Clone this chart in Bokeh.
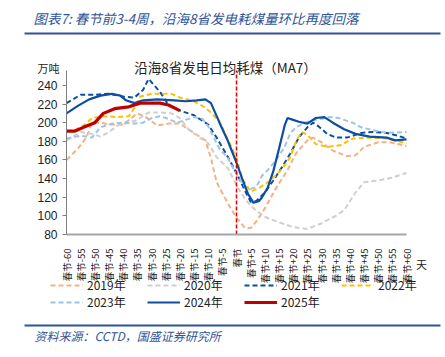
import math
from bokeh.plotting import figure
from bokeh.models import (Range1d, FixedTicker, Label, Legend, LegendItem,
                          BoxAnnotation, LinearAxis)
from bokeh.embed import file_html
from bokeh.resources import INLINE

# ---------------- data (days relative to Spring Festival, 万吨) ----------------
days_2019 = [-60, -56, -53, -51, -48, -45, -40, -35, -32, -28, -24, -20, -15, -11, -9, -7, -3, 0, 3, 5, 7, 10, 14, 18, 21, 25, 27, 30, 34, 39, 42, 45, 50, 54, 60]
vals_2019 = [160, 172, 184, 200, 200, 198, 198, 210, 206, 197, 199, 199, 189, 181, 162, 136, 113, 98, 87, 87, 94, 108, 130, 149, 167, 181, 184, 179, 170, 164, 165, 174, 179, 179, 175]

days_2020 = [-60, -55, -51, -48, -45, -42, -38, -35, -31, -27, -23, -20, -17, -13, -10, -7, -3, 0, 3, 6, 10, 15, 20, 25, 30, 35, 38, 42, 45, 50, 55, 60]
vals_2020 = [181, 190, 188, 185, 190, 197, 200, 203, 211, 211, 210, 205, 193, 184, 178, 163, 151, 133, 118, 108, 99, 93, 88, 86, 92, 100, 106, 125, 136, 138, 141, 146]

days_2021 = [-60, -55, -50, -45, -40, -36, -33, -31, -27, -24, -20, -15, -10, -7, -3, 0, 3, 5, 7, 10, 13, 16, 19, 22, 25, 27, 29, 32, 35, 39, 44, 48, 53, 57, 60]
vals_2021 = [221, 230, 230, 231, 228, 227, 235, 247, 233, 219, 213, 208, 198, 184, 163, 146, 127, 115, 116, 125, 138, 152, 167, 184, 195, 200, 196, 188, 184, 184, 189, 190, 189, 186, 183]

days_2022 = [-60, -57, -54, -51, -47, -42, -38, -36, -34, -30, -23, -20, -15, -12, -9, -6, -3, 0, 2, 5, 8, 12, 16, 19, 21, 23, 25, 28, 32, 37, 41, 48, 53, 60]
vals_2022 = [191, 192, 197, 205, 207, 206, 207, 216, 228, 231, 231, 227, 223, 218, 211, 201, 182, 162, 140, 126, 130, 138, 150, 163, 180, 190, 187, 177, 174, 176, 183, 184, 183, 178]

days_2023 = [-60, -55, -51, -48, -44, -40, -36, -33, -30, -27, -24, -21, -18, -15, -12, -10, -8, -6, -3, -1, 1, 3, 5, 7, 9, 11, 14, 17, 19, 21, 24, 28, 33, 36, 41, 44, 48, 53, 60]
vals_2023 = [183, 186, 184, 195, 199, 200, 199, 200, 205, 207, 204, 200, 203, 206, 204, 196, 184, 172, 162, 150, 140, 131, 129, 131, 143, 149, 160, 174, 189, 195, 200, 203, 206, 205, 200, 195, 192, 189, 190]

days_2024 = [-60, -56, -52, -48, -44, -41, -39, -36, -33, -28, -22, -18, -14, -11, -9, -6, -3, 0, 2, 4, 6, 8, 9, 11, 13, 15, 17, 18, 20, 22, 25, 28, 31, 34, 38, 42, 47, 53, 56, 60]
vals_2024 = [210, 218, 225, 229, 231, 229, 224, 221, 224, 225, 224, 223, 224, 225, 221, 200, 180, 157, 140, 124, 114, 116, 120, 130, 148, 172, 197, 205, 203, 201, 199, 205, 206, 200, 193, 188, 185, 184, 181, 182]

days_2025 = [-60, -57, -54, -50, -47, -43, -38, -34, -30, -27, -24, -20]
vals_2025 = [191, 191, 195, 200, 210, 215, 217, 221, 221, 221, 219, 213]

tick_days = [-60, -55, -50, -45, -40, -35, -30, -25, -20, -15, -10, -5, 0,
             5, 10, 15, 20, 25, 30, 35, 40, 45, 50, 55, 60]
tick_labels = ["春节-60", "春节-55", "春节-50", "春节-45", "春节-40", "春节-35",
               "春节-30", "春节-25", "春节-20", "春节-15", "春节-10", "春节-5",
               "春节", "春节+5", "春节+10", "春节+15", "春节+20", "春节+25",
               "春节+30", "春节+35", "春节+40", "春节+45", "春节+50", "春节+55",
               "春节+60"]
y_ticks = [80, 100, 120, 140, 160, 180, 200, 220, 240]

# ---------------- layout geometry (pixels) ----------------
W, H = 445, 357
FX0, FX1 = 66, 406        # plot area left/right
FY_TOP, FY_BOT = 70, 234  # plot area top/bottom (from top)
XMIN, XMAX = -60, 60
YMIN, YMAX = 80, 256

sx = (FX1 - FX0) / (XMAX - XMIN)
sy = (FY_BOT - FY_TOP) / (YMAX - YMIN)
x_start = XMIN - FX0 / sx
x_end = XMAX + (W - FX1) / sx
y_start = YMIN - (H - FY_BOT) / sy
y_end = YMAX + FY_TOP / sy

CJK = "Noto Sans CJK SC"
BLUE_T = "#2F5597"

p = figure(width=W, height=H, output_backend="svg", toolbar_location=None,
           x_range=Range1d(x_start, x_end), y_range=Range1d(y_start, y_end),
           x_axis_location=None, y_axis_location=None,
           min_border=0, min_border_left=0, min_border_right=0,
           min_border_top=0, min_border_bottom=0)
p.outline_line_color = None
p.grid.grid_line_color = None
p.background_fill_color = "white"
p.border_fill_color = "white"

# axes fixed at the plot-area edges
yax = LinearAxis(fixed_location=XMIN, bounds=(YMIN, YMAX),
                 ticker=FixedTicker(ticks=y_ticks))
yax.axis_line_color = "#7F7F7F"
yax.major_tick_line_color = "#7F7F7F"
yax.major_tick_out = 4
yax.major_tick_in = 0
yax.minor_tick_line_color = None
yax.major_label_text_font = "Liberation Sans"
yax.major_label_text_font_size = "12px"
yax.major_label_text_color = "#222222"
yax.major_label_standoff = 5
p.add_layout(yax, "left")

xax = LinearAxis(fixed_location=YMIN, bounds=(XMIN, XMAX),
                 ticker=FixedTicker(ticks=tick_days))
xax.major_label_overrides = {d: l for d, l in zip(tick_days, tick_labels)}
xax.major_label_orientation = math.pi / 2
xax.axis_line_color = "#A6A6A6"
xax.axis_line_width = 2
xax.major_tick_line_color = None
xax.minor_tick_line_color = None
xax.major_label_text_font = CJK
xax.major_label_text_font_size = "9.5px"
xax.major_label_text_color = "#222222"
xax.major_label_standoff = 8
p.add_layout(xax, "below")

# series
DASH = "5 3"
r19 = p.line(days_2019, vals_2019, line_color="#F4B183", line_width=2, line_dash=DASH)
r20 = p.line(days_2020, vals_2020, line_color="#CFCFCF", line_width=2, line_dash=DASH)
r21 = p.line(days_2021, vals_2021, line_color="#0B4EA2", line_width=2, line_dash=DASH)
r22 = p.line(days_2022, vals_2022, line_color="#FFC000", line_width=2, line_dash=DASH)
r23 = p.line(days_2023, vals_2023, line_color="#9DC3E6", line_width=2, line_dash=DASH)
r24 = p.line(days_2024, vals_2024, line_color="#0B4EA2", line_width=2.2)
r25 = p.line(days_2025, vals_2025, line_color="#C00000", line_width=3.2)

# Spring Festival marker
p.segment(x0=[0], y0=[YMIN], x1=[0], y1=[YMAX], line_color="#E00000",
          line_dash="4 2", line_width=1.5)

legend = Legend(items=[LegendItem(label="2019年", renderers=[r19]),
                       LegendItem(label="2020年", renderers=[r20]),
                       LegendItem(label="2021年", renderers=[r21]),
                       LegendItem(label="2022年", renderers=[r22]),
                       LegendItem(label="2023年", renderers=[r23]),
                       LegendItem(label="2024年", renderers=[r24]),
                       LegendItem(label="2025年", renderers=[r25])],
                location=(50, 47), orientation="horizontal", ncols=4,
                label_text_font=CJK, label_text_font_size="12px",
                label_text_color="#222222",
                glyph_width=33, glyph_height=12, label_standoff=4,
                label_width=60, label_height=12, spacing=0, padding=0, margin=0,
                border_line_alpha=0, background_fill_alpha=0)
p.add_layout(legend)

# texts (screen units from bottom-left of canvas)
def lab(x, y, text, size, font=CJK, color="#222222", style="normal", align="left"):
    p.add_layout(Label(x=x, y=H - y, x_units="screen", y_units="screen", text=text,
                       text_font=font, text_font_size=size, text_color=color,
                       text_font_style=style, text_align=align,
                       text_baseline="middle"))

lab(33, 17, "图表7: 春节前3-4周，沿海8省发电耗煤量环比再度回落", "13.5px",
    color=BLUE_T, style="italic")
lab(225, 66, "沿海8省发电日均耗煤（MA7）", "13.5px", align="center")
lab(37, 67, "万吨", "11px")
lab(421, 263, "天", "11px", align="center")
lab(34, 335, "资料来源：CCTD，国盛证券研究所", "12px", color=BLUE_T, style="italic")

for yline in [33, 325]:
    p.add_layout(BoxAnnotation(left=24, right=440, top=H - yline + 1, bottom=H - yline - 1,
                               left_units="screen", right_units="screen",
                               top_units="screen", bottom_units="screen",
                               fill_color=BLUE_T, fill_alpha=1, line_alpha=0))

open("out.html", "w").write(file_html(p, INLINE))
